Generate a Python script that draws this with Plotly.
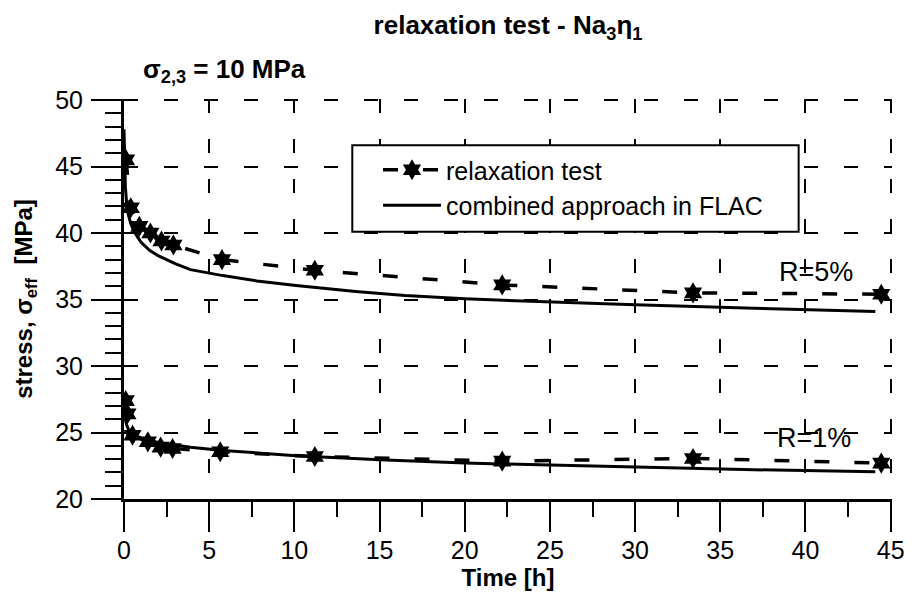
import plotly.graph_objects as go

# ---- data ----
t_test_5 = [0.12, 0.4, 0.9, 1.55, 2.2, 2.9, 5.75, 11.2, 22.2, 33.4, 44.45]
s_test_5 = [45.5, 41.9, 40.5, 40.0, 39.4, 39.1, 38.0, 37.2, 36.1, 35.5, 35.4]

t_flac_5 = [0, 0.03, 0.08, 0.15, 0.25, 0.4, 0.6, 1.0, 1.5, 2.0, 3.0, 3.9, 5.8, 7.8,
            10.1, 13.6, 16.5, 20, 25, 30, 37, 44.1]
s_flac_5 = [47.8, 45.2, 43.5, 42.3, 41.4, 40.7, 40.1, 39.3, 38.7, 38.3, 37.7, 37.25,
            36.8, 36.4, 36.05, 35.6, 35.3, 35.05, 34.8, 34.6, 34.35, 34.1]

t_test_1 = [0.1, 0.2, 0.5, 1.4, 2.15, 2.85, 5.65, 11.2, 22.2, 33.4, 44.45]
s_test_1 = [27.4, 26.4, 24.8, 24.3, 23.9, 23.8, 23.55, 23.2, 22.85, 23.05, 22.7]

t_flac_1 = [0, 0.03, 0.08, 0.15, 0.3, 0.6, 1.0, 2.0, 3.9, 5.8, 7.8, 10.1, 15.0, 20,
            25, 30, 37, 44.1]
s_flac_1 = [27.2, 26.5, 26.0, 25.6, 25.1, 24.8, 24.6, 24.25, 23.9, 23.65, 23.45, 23.25,
            22.95, 22.7, 22.55, 22.4, 22.2, 22.05]

x_ticks = [0, 5, 10, 15, 20, 25, 30, 35, 40, 45]
y_ticks = [20, 25, 30, 35, 40, 45, 50]

FONT = "Liberation Sans, Arial, sans-serif"

fig = go.Figure()

test_line = dict(color="black", width=3.5, dash="15px,25px")
test_marker = dict(symbol="hexagram", size=16, color="black")
flac_line = dict(color="black", width=3)

fig.add_trace(go.Scatter(x=t_test_5, y=s_test_5, mode="lines+markers", line=test_line,
                         marker=test_marker, name="relaxation test", legendrank=1))
fig.add_trace(go.Scatter(x=t_test_1, y=s_test_1, mode="lines+markers", line=test_line,
                         marker=test_marker, name="relaxation test", showlegend=False))
fig.add_trace(go.Scatter(x=t_flac_5, y=s_flac_5, mode="lines", line=flac_line,
                         name="combined approach in FLAC", legendrank=2))
fig.add_trace(go.Scatter(x=t_flac_1, y=s_flac_1, mode="lines", line=flac_line,
                         name="combined approach in FLAC", showlegend=False))

L, R, T, B = 116, 29, 91, 113
W = 913 - L - R
H = 604 - T - B

def px_x(px):
    return (px - L) / W

def px_y(py):
    return (604 - B - py) / H

fig.update_layout(
    width=913, height=604,
    margin=dict(l=L, r=R, t=T, b=B, autoexpand=False),
    paper_bgcolor="white", plot_bgcolor="white",
    font=dict(family=FONT, color="black", size=24),
    title=dict(text="relaxation test - Na<sub>3</sub>η<sub>1</sub>",
               x=0.5, xref="paper", xanchor="center",
               y=1 - 17 / 604, yref="container", yanchor="middle",
               font=dict(size=26, weight="bold", family=FONT)),
    xaxis=dict(range=[0, 45.08], tickvals=x_ticks, ticks="outside", ticklen=30,
               tickwidth=2, tickcolor="black", showline=True, linewidth=3,
               linecolor="black", zeroline=False, showgrid=True, gridcolor="black",
               gridwidth=1.5, griddash="14px,26px", ticklabelstandoff=-3,
               tickfont=dict(size=25),
               minor=dict(dtick=2.5, ticks="outside", ticklen=15, tickwidth=2,
                          tickcolor="black", showgrid=False),
               title=dict(text="Time [h]", standoff=0,
                          font=dict(size=24, weight="bold"))),
    yaxis=dict(range=[20, 50.08], tickvals=y_ticks, ticks="outside", ticklen=30,
               tickwidth=2, tickcolor="black", showline=True, linewidth=3,
               linecolor="black", zeroline=False, showgrid=True, gridcolor="black",
               gridwidth=1.5, griddash="14px,26px", ticklabelstandoff=3,
               tickfont=dict(size=25),
               minor=dict(dtick=1, ticks="outside", ticklen=16, tickwidth=2,
                          tickcolor="black", showgrid=False),
               title=dict(text="stress, σ<sub>eff</sub>  [MPa]", standoff=16,
                          font=dict(size=24, weight="bold"))),
    showlegend=True,
    legend=dict(x=px_x(370), y=px_y(139), xanchor="left", yanchor="top",
                bgcolor="rgba(0,0,0,0)", borderwidth=0, itemwidth=58,
                font=dict(size=25, family=FONT), tracegroupgap=0),
    shapes=[dict(type="rect", xref="x", yref="y",
                 x0=13.4, x1=39.6, y0=40.1, y1=46.6,
                 line=dict(color="black", width=2), fillcolor="white",
                 layer="between")],
    annotations=[
        dict(text="<b>σ<sub>2,3</sub> = 10 MPa</b>", xref="paper", yref="paper",
             x=px_x(133), y=px_y(63), xanchor="left", yanchor="middle",
             showarrow=False, font=dict(size=26)),
        dict(text="R=5%", xref="x", yref="y", x=40.6, y=37.1, showarrow=False,
             font=dict(size=27)),
        dict(text="R=1%", xref="x", yref="y", x=40.5, y=24.6, showarrow=False,
             font=dict(size=27)),
    ],
)

fig.write_html("out.html")
